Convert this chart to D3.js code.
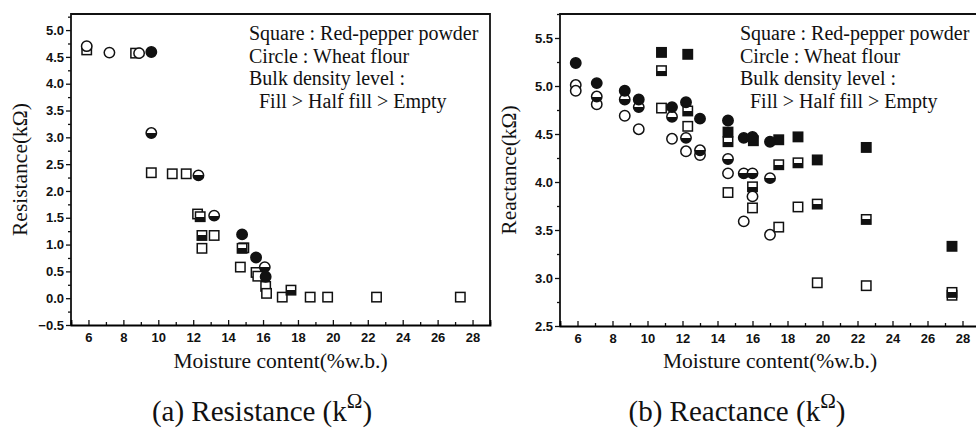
<!DOCTYPE html>
<html>
<head>
<meta charset="utf-8">
<script src="https://cdnjs.cloudflare.com/ajax/libs/d3/7.8.5/d3.min.js"></script>
<style>
  body { margin: 0; background: #fff; }
  .tick text { font-family: "Liberation Sans", Arial, sans-serif; font-size: 13px; font-weight: bold; fill: #111; }
  .serif { font-family: "Liberation Serif", "Times New Roman", serif; fill: #111; }
</style>
</head>
<body>
<div id="chart"></div>
<script>
// ---- data: [moisture %w.b., value kOhm] ----
// (a) Resistance
var resSquareFill  = [];
var resSquareHalf  = [[12.4, 1.52], [12.5, 1.17], [14.8, 0.93], [17.6, 0.15]];
var resSquareEmpty = [[5.9, 4.63], [8.7, 4.57], [9.6, 2.34], [10.8, 2.32], [11.6, 2.32], [12.25, 1.57],
                      [12.5, 0.93], [13.2, 1.17], [14.9, 0.94], [14.7, 0.58], [15.6, 0.48], [15.7, 0.41],
                      [16.15, 0.22], [16.2, 0.09], [17.1, 0.02], [18.7, 0.02], [19.7, 0.02], [22.5, 0.02], [27.3, 0.02]];
var resCircleFill  = [[9.6, 4.59], [14.8, 1.19], [15.6, 0.76], [16.15, 0.40]];
var resCircleHalf  = [[9.6, 3.08], [12.3, 2.29], [13.2, 1.54], [16.1, 0.58]];
var resCircleEmpty = [[5.9, 4.70], [7.2, 4.58], [8.9, 4.57]];

// (b) Reactance
var reaSquareFill  = [[10.8, 5.35], [12.3, 5.33], [14.6, 4.52], [16.05, 4.43], [17.5, 4.44], [18.6, 4.47],
                      [19.7, 4.23], [22.5, 4.36], [27.4, 3.33]];
var reaSquareHalf  = [[10.8, 5.16], [12.3, 4.74], [14.6, 4.42], [16.0, 3.95], [17.5, 4.18], [18.6, 4.20],
                      [19.7, 3.77], [22.5, 3.61], [27.4, 2.85]];
var reaSquareEmpty = [[10.8, 4.77], [12.3, 4.58], [14.6, 3.89], [16.0, 3.73], [17.5, 3.53], [18.6, 3.74],
                      [19.7, 2.95], [22.5, 2.92], [27.4, 2.82]];
var reaCircleFill  = [[5.9, 5.24], [7.1, 5.03], [8.7, 4.95], [9.5, 4.86], [11.4, 4.78], [12.2, 4.83],
                      [13.0, 4.66], [14.6, 4.64], [15.5, 4.46], [16.0, 4.47], [17.0, 4.42]];
var reaCircleHalf  = [[7.1, 4.89], [8.7, 4.86], [9.5, 4.78], [11.4, 4.68], [12.2, 4.46], [13.0, 4.33],
                      [14.6, 4.24], [15.5, 4.09], [16.0, 4.09], [17.0, 4.04]];
var reaCircleEmpty = [[5.9, 5.01], [5.9, 4.95], [7.1, 4.81], [8.7, 4.69], [9.5, 4.55], [11.4, 4.45],
                      [12.2, 4.32], [13.0, 4.28], [14.6, 4.09], [15.5, 3.59], [16.0, 3.85], [17.0, 3.45]];

var xTicks = [6, 8, 10, 12, 14, 16, 18, 20, 22, 24, 26, 28];
var resTicks = [-0.5, 0.0, 0.5, 1.0, 1.5, 2.0, 2.5, 3.0, 3.5, 4.0, 4.5, 5.0];
var reaTicks = [2.5, 3.0, 3.5, 4.0, 4.5, 5.0, 5.5];
var legendLines = ["Square : Red-pepper powder", "Circle : Wheat flour", "Bulk density level :", " Fill > Half fill > Empty"];

var svg = d3.select("#chart").append("svg").attr("width", 976).attr("height", 430);

var defs = svg.append("defs");
var grad = defs.append("linearGradient").attr("id", "half").attr("x1", 0).attr("y1", 0).attr("x2", 0).attr("y2", 1);
grad.append("stop").attr("offset", "50%").attr("stop-color", "#fff");
grad.append("stop").attr("offset", "50%").attr("stop-color", "#111");

function panel(cfg) {
  var x = d3.scaleLinear().domain([5, 29]).range([cfg.left, cfg.right]);
  var y = d3.scaleLinear().domain(cfg.yDomain).range([cfg.bottom, cfg.top]);
  var g = svg.append("g");

  // frame
  g.append("path")
    .attr("d", "M" + cfg.left + "," + cfg.bottom + "V" + cfg.top + "H" + cfg.right + "V" + cfg.bottom)
    .attr("fill", "none").attr("stroke", "#111").attr("stroke-width", 1.8);

  // x axis, ticks pointing inward
  var minorX = d3.range(5, 30, 1).filter(function(d) { return d % 2 == 1; });
  g.append("g").attr("transform", "translate(0," + cfg.bottom + ")")
    .call(d3.axisBottom(x).tickValues(minorX).tickSize(-3).tickFormat(""))
    .call(function(a) { a.select(".domain").remove(); });
  var xa = g.append("g").attr("transform", "translate(0," + cfg.bottom + ")")
    .call(d3.axisBottom(x).tickValues(xTicks).tickSize(-5).tickPadding(8).tickFormat(d3.format("d")));
  xa.select(".domain").attr("stroke-width", 1.8);

  // y axis, ticks outward
  var minorY = d3.range(cfg.yDomain[0] + 0.25, cfg.yTicks[cfg.yTicks.length - 1] + 0.3, 0.5);
  g.append("g").attr("transform", "translate(" + cfg.left + ",0)")
    .call(d3.axisLeft(y).tickValues(minorY).tickSize(3).tickFormat(""))
    .call(function(a) { a.select(".domain").remove(); });
  g.append("g").attr("transform", "translate(" + cfg.left + ",0)")
    .call(d3.axisLeft(y).tickValues(cfg.yTicks).tickSize(5).tickPadding(2).tickFormat(d3.format(".1f")))
    .call(function(a) { a.select(".domain").remove(); });
  g.selectAll(".tick line").attr("stroke", "#111").attr("stroke-width", 1.3);

  // axis titles
  g.append("text").attr("class", "serif")
    .attr("x", (cfg.left + cfg.right) / 2).attr("y", 368)
    .attr("text-anchor", "middle").style("font-size", "21.5px")
    .text("Moisture content(%w.b.)");
  g.append("text").attr("class", "serif")
    .attr("transform", "translate(" + (cfg.left - 44) + "," + ((cfg.top + cfg.bottom) / 2) + ")rotate(-90)")
    .attr("text-anchor", "middle").style("font-size", "21.5px")
    .text(cfg.yTitle);

  // legend
  g.append("g").selectAll("text").data(legendLines).enter().append("text")
    .attr("class", "serif")
    .attr("x", function(d, i) { return cfg.legendX + (i == 3 ? 10 : 0); })
    .attr("y", function(d, i) { return 40 + i * 22.5; })
    .style("font-size", "20px")
    .text(function(d) { return d.trim(); });

  // markers
  var fills = { fill: "#111", half: "url(#half)", empty: "#fff" };
  cfg.series.forEach(function(s) {
    var mg = g.append("g");
    if (s.shape == "circle") {
      mg.selectAll("circle").data(s.data).enter().append("circle")
        .attr("cx", function(d) { return x(d[0]); })
        .attr("cy", function(d) { return y(d[1]); })
        .attr("r", 5.2)
        .attr("fill", fills[s.fill]).attr("stroke", "#111").attr("stroke-width", 1.5);
    } else {
      mg.selectAll("rect").data(s.data).enter().append("rect")
        .attr("x", function(d) { return x(d[0]) - 4.7; })
        .attr("y", function(d) { return y(d[1]) - 4.7; })
        .attr("width", 9.4).attr("height", 9.4)
        .attr("fill", fills[s.fill]).attr("stroke", "#111").attr("stroke-width", 1.5);
    }
  });

  // caption
  var cap = svg.append("text").attr("class", "serif")
    .attr("x", cfg.capX).attr("y", 421)
    .attr("text-anchor", "middle").style("font-size", "29px");
  cap.append("tspan").text(cfg.caption + " (k");
  cap.append("tspan").attr("dy", -13).style("font-size", "21px").text("\u03A9");
  cap.append("tspan").attr("dy", 13).text(")");
}

panel({
  left: 71, right: 490, top: 14, bottom: 325,
  yDomain: [-0.5, 5.3], yTicks: resTicks,
  yTitle: "Resistance(k\u03A9)", legendX: 249,
  caption: "(a) Resistance", capX: 262,
  series: [
    { shape: "square", fill: "empty", data: resSquareEmpty },
    { shape: "square", fill: "half", data: resSquareHalf },
    { shape: "square", fill: "fill", data: resSquareFill },
    { shape: "circle", fill: "empty", data: resCircleEmpty },
    { shape: "circle", fill: "half", data: resCircleHalf },
    { shape: "circle", fill: "fill", data: resCircleFill }
  ]
});

panel({
  left: 560, right: 980, top: 14, bottom: 326,
  yDomain: [2.5, 5.75], yTicks: reaTicks,
  yTitle: "Reactance(k\u03A9)", legendX: 740,
  caption: "(b) Reactance", capX: 737,
  series: [
    { shape: "square", fill: "empty", data: reaSquareEmpty },
    { shape: "square", fill: "half", data: reaSquareHalf },
    { shape: "square", fill: "fill", data: reaSquareFill },
    { shape: "circle", fill: "empty", data: reaCircleEmpty },
    { shape: "circle", fill: "half", data: reaCircleHalf },
    { shape: "circle", fill: "fill", data: reaCircleFill }
  ]
});
</script>
</body>
</html>
